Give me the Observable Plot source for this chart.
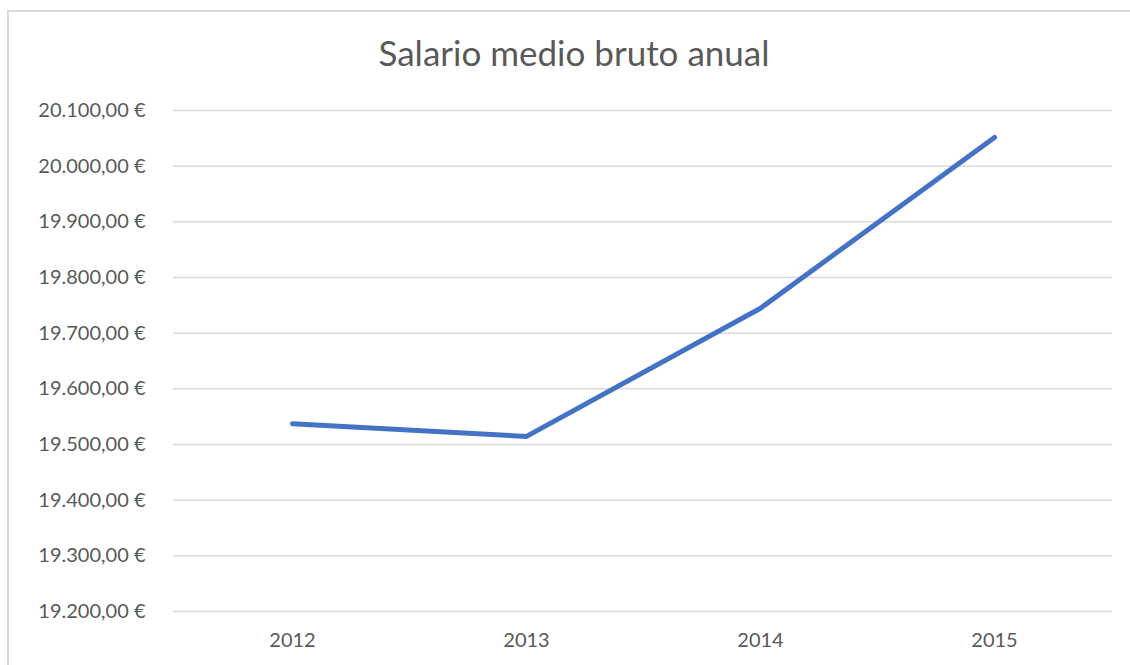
<!DOCTYPE html>
<html>
<head>
<meta charset="utf-8">
<script src="https://cdn.jsdelivr.net/npm/d3@7"></script>
<script src="https://cdn.jsdelivr.net/npm/@observablehq/plot@0.6"></script>
<style>
  html, body { margin: 0; padding: 0; background: #fff; }
  #wrap { position: relative; width: 1130px; height: 665px; overflow: hidden; font-family: Lato, "Open Sans", sans-serif; }
  #frame { position: absolute; left: 7px; top: 10px; width: 1140px; height: 700px; border: 2px solid #d9d9d9; box-sizing: border-box; }
  #title { position: absolute; left: 0; width: 1148px; top: 31px; text-align: center; font-size: 35px; color: #595959; }
  #chart { position: absolute; left: 0; top: 0; }
</style>
</head>
<body>
<div id="wrap">
  <div id="frame"></div>
  <div id="title">Salario medio bruto anual</div>
  <div id="chart"></div>
</div>
<script>
const years = ["2012", "2013", "2014", "2015"];
const salaries = [19537.33, 19514.58, 19744.82, 20051.58];
const yTicks = [19200, 19300, 19400, 19500, 19600, 19700, 19800, 19900, 20000, 20100];

const data = years.map((y, i) => ({year: y, value: salaries[i]}));
const loc = d3.formatLocale({decimal: ",", thousands: ".", grouping: [3], currency: ["", " €"]});
const fmt = v => loc.format(",.2f")(v) + " €";

const chart = Plot.plot({
  width: 1130,
  height: 665,
  marginLeft: 173,
  marginRight: 18,
  marginTop: 110,
  marginBottom: 54,
  style: {fontFamily: "Lato, 'Open Sans', sans-serif", fontSize: "20px", color: "#595959", background: "transparent"},
  x: {type: "point", domain: years, padding: 0.5, label: null, tickSize: 0, tickPadding: 21},
  y: {domain: [19200, 20100], ticks: yTicks, tickFormat: fmt, label: null, tickSize: 0, tickPadding: 28},
  marks: [
    Plot.gridY(yTicks, {stroke: "#d9d9d9", strokeOpacity: 1, strokeWidth: 1.5}),
    Plot.axisY(yTicks, {tickFormat: fmt, tickSize: 0, tickPadding: 28, fill: "#595959", fontSize: 20}),
    Plot.axisX({tickSize: 0, tickPadding: 21, fill: "#595959", fontSize: 20}),
    Plot.line(data, {x: "year", y: "value", stroke: "#4472C4", strokeWidth: 5, strokeLinecap: "round", strokeLinejoin: "round"})
  ]
});
document.getElementById("chart").appendChild(chart);
</script>
</body>
</html>
